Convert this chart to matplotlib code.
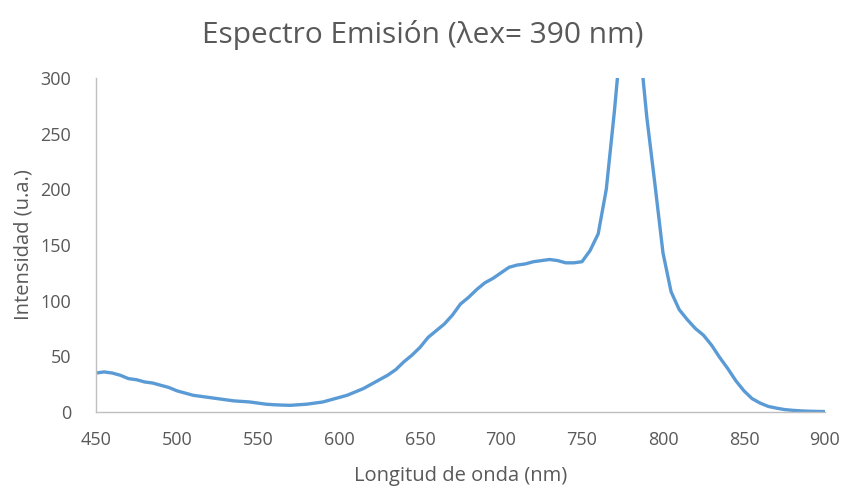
import matplotlib.pyplot as plt

# longitud de onda (nm) e intensidad
wavelength = [450, 455, 460, 465, 470, 475, 480, 485, 490, 495,
              500, 505, 510, 515, 520, 525, 530, 535, 540, 545,
              550, 555, 560, 565, 570, 575, 580, 585, 590, 595,
              600, 605, 610, 615, 620, 625, 630, 635, 640, 645,
              650, 655, 660, 665, 670, 675, 680, 685, 690, 695,
              700, 705, 710, 715, 720, 725, 730, 735, 740, 745,
              750, 755, 760, 765, 770, 775, 780, 785, 790, 795,
              800, 805, 810, 815, 820, 825, 830, 835, 840, 845,
              850, 855, 860, 865, 870, 875, 880, 885, 890, 895, 900]
intensity = [35, 36, 35, 33, 30, 29, 27, 26, 24, 22,
             19, 17, 15, 14, 13, 12, 11, 10, 9.5, 9,
             8, 7, 6.5, 6.2, 6, 6.5, 7, 8, 9, 11,
             13, 15, 18, 21, 25, 29, 33, 38, 45, 51,
             58, 67, 73, 79, 87, 97, 103, 110, 116, 120,
             125, 130, 132, 133, 135, 136, 137, 136, 134, 134,
             135, 145, 160, 200, 270, 350, 400, 340, 265, 205,
             143, 108, 92, 83, 75, 69, 60, 49, 39, 28,
             19, 12, 8, 5, 3.5, 2.2, 1.5, 1, 0.7, 0.5, 0.4]

grey = '#595959'
plt.rcParams['font.family'] = ['Open Sans', 'DejaVu Sans']

fig = plt.figure(figsize=(8.45, 4.91), dpi=100)
ax = fig.add_axes([0.1136, 0.1609, 0.8627, 0.6802])
ax.plot(wavelength, intensity, color='#5B9BD5', linewidth=2.4, solid_capstyle='round')

ax.set_xlim(450, 900)
ax.set_ylim(0, 300)
ax.set_xticks(range(450, 901, 50))
ax.set_yticks(range(0, 301, 50))
ax.tick_params(axis='x', length=0, labelsize=13, labelcolor=grey, pad=14)
ax.tick_params(axis='y', length=0, labelsize=13, labelcolor=grey, pad=18)

for side in ['top', 'right']:
    ax.spines[side].set_visible(False)
for side in ['left', 'bottom']:
    ax.spines[side].set_color('#BFBFBF')
    ax.spines[side].set_linewidth(1)

ax.set_xlabel('Longitud de onda (nm)', fontsize=14.5, color=grey, labelpad=12)
ax.set_ylabel('Intensidad (u.a.)', fontsize=14.5, color=grey, labelpad=5)
fig.suptitle('Espectro Emisión (λex= 390 nm)', fontsize=21.5, color=grey, y=0.96)

fig.savefig('out.png', dpi=100)
